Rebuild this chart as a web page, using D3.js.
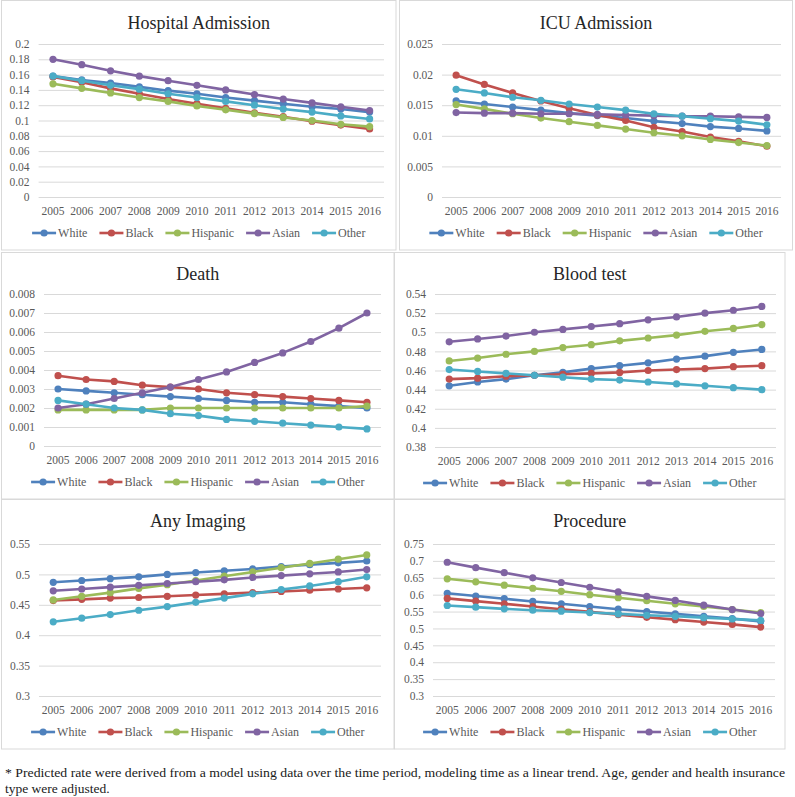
<!DOCTYPE html>
<html><head><meta charset="utf-8">
<script src="https://cdn.jsdelivr.net/npm/d3@7"></script>
<style>
html,body{margin:0;padding:0;background:#fff;}
svg{display:block;}
</style></head>
<body>
<svg id="chart" width="795" height="797"></svg>
<script>
// ---------- DATA ----------
const years = ["2005","2006","2007","2008","2009","2010","2011","2012","2013","2014","2015","2016"];
const groups = ["White","Black","Hispanic","Asian","Other"];
const groupColors = ["#4F81BD","#C0504D","#9BBB59","#8064A2","#4BACC6"];

// Hospital Admission (White, Black, Hispanic, Asian, Other)
const hospWhite    = [0.158,0.153,0.149,0.144,0.139,0.135,0.130,0.126,0.122,0.118,0.115,0.111];
const hospBlack    = [0.157,0.150,0.142,0.135,0.128,0.122,0.116,0.110,0.105,0.099,0.094,0.089];
const hospHispanic = [0.148,0.142,0.136,0.130,0.125,0.119,0.114,0.109,0.104,0.100,0.095,0.092];
const hospAsian    = [0.180,0.173,0.165,0.158,0.152,0.146,0.140,0.134,0.128,0.123,0.118,0.113];
const hospOther    = [0.158,0.152,0.146,0.141,0.135,0.130,0.125,0.120,0.115,0.111,0.106,0.102];
const hospTicks = ["0","0.02","0.04","0.06","0.08","0.1","0.12","0.14","0.16","0.18","0.2"];

// ICU Admission
const icuWhite    = [0.0157,0.0152,0.0147,0.0142,0.0137,0.0133,0.0129,0.0124,0.0120,0.0115,0.0112,0.0108];
const icuBlack    = [0.0199,0.0184,0.0170,0.0157,0.0145,0.0134,0.0125,0.0114,0.0107,0.0098,0.0091,0.0083];
const icuHispanic = [0.0151,0.0144,0.0136,0.0129,0.0123,0.0117,0.0111,0.0105,0.0100,0.0094,0.0089,0.0084];
const icuAsian    = [0.0138,0.0137,0.0137,0.0136,0.0136,0.0135,0.0134,0.0133,0.0132,0.0132,0.0131,0.0130];
const icuOther    = [0.0176,0.0170,0.0163,0.0158,0.0152,0.0147,0.0142,0.0136,0.0132,0.0128,0.0124,0.0118];
const icuTicks = ["0","0.005","0.01","0.015","0.02","0.025"];

// Death
const deathWhite    = [0.0030,0.0029,0.0028,0.0027,0.0026,0.0025,0.0024,0.0023,0.0023,0.0022,0.0021,0.0020];
const deathBlack    = [0.0037,0.0035,0.0034,0.0032,0.0031,0.0030,0.0028,0.0027,0.0026,0.0025,0.0024,0.0023];
const deathHispanic = [0.0019,0.0019,0.0019,0.0019,0.0020,0.0020,0.0020,0.0020,0.0020,0.0020,0.0020,0.0021];
const deathAsian    = [0.0020,0.0022,0.0025,0.0028,0.0031,0.0035,0.0039,0.0044,0.0049,0.0055,0.0062,0.0070];
const deathOther    = [0.0024,0.0022,0.0020,0.0019,0.0017,0.0016,0.0014,0.0013,0.0012,0.0011,0.0010,0.0009];
const deathTicks = ["0","0.001","0.002","0.003","0.004","0.005","0.006","0.007","0.008"];

// Blood test
const bloodWhite    = [0.444,0.448,0.451,0.455,0.458,0.462,0.465,0.468,0.472,0.475,0.479,0.482];
const bloodBlack    = [0.451,0.452,0.454,0.455,0.456,0.457,0.458,0.460,0.461,0.462,0.464,0.465];
const bloodHispanic = [0.470,0.473,0.477,0.480,0.484,0.487,0.491,0.494,0.497,0.501,0.504,0.508];
const bloodAsian    = [0.490,0.493,0.496,0.500,0.503,0.506,0.509,0.513,0.516,0.520,0.523,0.527];
const bloodOther    = [0.461,0.459,0.457,0.455,0.453,0.451,0.450,0.448,0.446,0.444,0.442,0.440];
const bloodTicks = ["0.38","0.4","0.42","0.44","0.46","0.48","0.5","0.52","0.54"];

// Any Imaging
const imgWhite    = [0.487,0.490,0.493,0.496,0.500,0.503,0.506,0.509,0.513,0.516,0.519,0.522];
const imgBlack    = [0.457,0.459,0.461,0.462,0.464,0.466,0.468,0.470,0.472,0.474,0.476,0.478];
const imgHispanic = [0.458,0.464,0.470,0.477,0.483,0.490,0.497,0.504,0.511,0.518,0.525,0.532];
const imgAsian    = [0.473,0.476,0.479,0.482,0.485,0.488,0.491,0.495,0.498,0.501,0.504,0.508];
const imgOther    = [0.422,0.428,0.434,0.441,0.447,0.454,0.461,0.468,0.475,0.481,0.488,0.496];
const imgTicks = ["0.3","0.35","0.4","0.45","0.5","0.55"];

// Procedure
const procWhite    = [0.604,0.596,0.588,0.580,0.573,0.565,0.557,0.550,0.543,0.536,0.529,0.521];
const procBlack    = [0.589,0.581,0.573,0.565,0.557,0.549,0.541,0.533,0.526,0.519,0.512,0.504];
const procHispanic = [0.647,0.638,0.628,0.619,0.610,0.600,0.591,0.582,0.573,0.565,0.556,0.547];
const procAsian    = [0.696,0.680,0.665,0.650,0.636,0.622,0.608,0.595,0.583,0.569,0.556,0.544];
const procOther    = [0.568,0.563,0.558,0.554,0.551,0.547,0.543,0.539,0.536,0.532,0.528,0.524];
const procTicks = ["0.3","0.35","0.4","0.45","0.5","0.55","0.6","0.65","0.7","0.75"];

const titles = ["Hospital Admission","ICU Admission","Death","Blood test","Any Imaging","Procedure"];
const footnote1 = "* Predicted rate were derived from a model using data over the time period, modeling time as a linear trend. Age, gender and health insurance";
const footnote2 = "type were adjusted.";

// ---------- LAYOUT ----------
const panels = [
  {title:titles[0], series:[hospWhite,hospBlack,hospHispanic,hospAsian,hospOther], ticks:hospTicks,
   box:[1.5,0.5,394.5,249.5], plot:{l:38.6,r:384,t:44,b:197}},
  {title:titles[1], series:[icuWhite,icuBlack,icuHispanic,icuAsian,icuOther], ticks:icuTicks,
   box:[399.5,0.5,393,249.5], plot:{l:442,r:781,t:44,b:197}},
  {title:titles[2], series:[deathWhite,deathBlack,deathHispanic,deathAsian,deathOther], ticks:deathTicks,
   box:[1.5,252.5,392.5,246.5], plot:{l:44,r:381,t:294,b:446}},
  {title:titles[3], series:[bloodWhite,bloodBlack,bloodHispanic,bloodAsian,bloodOther], ticks:bloodTicks,
   box:[394.5,252.5,390.5,246.5], plot:{l:435,r:776,t:294,b:447}},
  {title:titles[4], series:[imgWhite,imgBlack,imgHispanic,imgAsian,imgOther], ticks:imgTicks,
   box:[1.5,499.5,392.5,249.5], plot:{l:39,r:381,t:544,b:696}},
  {title:titles[5], series:[procWhite,procBlack,procHispanic,procAsian,procOther], ticks:procTicks,
   box:[394.5,499.5,390.5,249.5], plot:{l:433,r:775,t:544,b:696}}
];

const FONT = "'Liberation Serif', 'Times New Roman', serif";
const svg = d3.select("#chart");
svg.append("rect").attr("width",795).attr("height",797).attr("fill","#fff");

panels.forEach(p => {
  const g = svg.append("g");
  const [bx,by,bw,bh] = p.box;
  g.append("rect").attr("x",bx).attr("y",by).attr("width",bw).attr("height",bh)
    .attr("fill","#fff").attr("stroke","#D9D9D9").attr("stroke-width",1);
  const cx = bx + bw/2;
  const {l,r,t,b} = p.plot;

  const tickNums = p.ticks.map(Number);
  const x = d3.scaleBand().domain(years).range([l,r]);
  const y = d3.scaleLinear().domain([d3.min(tickNums), d3.max(tickNums)]).range([b,t]);

  // y axis with gridlines
  const ya = g.append("g").attr("transform",`translate(${l},0)`)
    .call(d3.axisLeft(y).tickValues(tickNums).tickFormat((d,i)=>p.ticks[i])
      .tickSize(-(r-l)).tickPadding(9));
  ya.select(".domain").remove();
  ya.selectAll("line").attr("stroke","#D9D9D9").attr("stroke-width",1);
  ya.selectAll("text").attr("fill","#595959").style("font-family",FONT).style("font-size","11.5px");

  // x axis
  const xa = g.append("g").attr("transform",`translate(0,${b})`)
    .call(d3.axisBottom(x).tickSize(0).tickPadding(9.5));
  xa.select(".domain").remove();
  xa.selectAll("text").attr("fill","#595959").style("font-family",FONT).style("font-size","11.5px");

  // title
  g.append("text").attr("x",cx).attr("y",by + 22 + (p.box[1]>1?-1:0)).attr("text-anchor","middle")
    .attr("dominant-baseline","central").attr("fill","#262626")
    .style("font-family",FONT).style("font-size","18px").text(p.title);

  // lines
  const line = d3.line().x((d,i)=>x(years[i])+x.bandwidth()/2).y(d=>y(d));
  p.series.forEach((s,k) => {
    const sg = g.append("g");
    sg.append("path").datum(s).attr("d",line).attr("fill","none")
      .attr("stroke",groupColors[k]).attr("stroke-width",2.6).attr("stroke-linejoin","round");
    sg.selectAll("circle").data(s).join("circle")
      .attr("cx",(d,i)=>x(years[i])+x.bandwidth()/2).attr("cy",d=>y(d)).attr("r",3.6)
      .attr("fill",groupColors[k]);
  });

  // legend
  const legY = b + 36;
  const lg = g.append("g");
  let xpos = 0;
  groups.forEach((name,k) => {
    const ig = lg.append("g").attr("transform",`translate(${xpos},0)`);
    ig.append("line").attr("x1",0).attr("x2",24).attr("y1",legY).attr("y2",legY)
      .attr("stroke",groupColors[k]).attr("stroke-width",2.6);
    ig.append("circle").attr("cx",12).attr("cy",legY).attr("r",3.6).attr("fill",groupColors[k]);
    const tx = ig.append("text").attr("x",26).attr("y",legY).attr("dominant-baseline","central")
      .attr("fill","#595959").style("font-family",FONT).style("font-size","12px").text(name);
    const w = tx.node().getComputedTextLength();
    xpos += 26 + w + 12;
  });
  const totalW = xpos - 12;
  lg.attr("transform",`translate(${cx - totalW/2},0)`);
});

// footnote
svg.append("text").attr("x",5).attr("y",777).attr("fill","#1a1a1a")
  .style("font-family",FONT).style("font-size","13.5px")
  .attr("textLength",780).attr("lengthAdjust","spacingAndGlyphs").text(footnote1);
svg.append("text").attr("x",5).attr("y",793).attr("fill","#1a1a1a")
  .style("font-family",FONT).style("font-size","13.5px").text(footnote2);
</script>
</body></html>
